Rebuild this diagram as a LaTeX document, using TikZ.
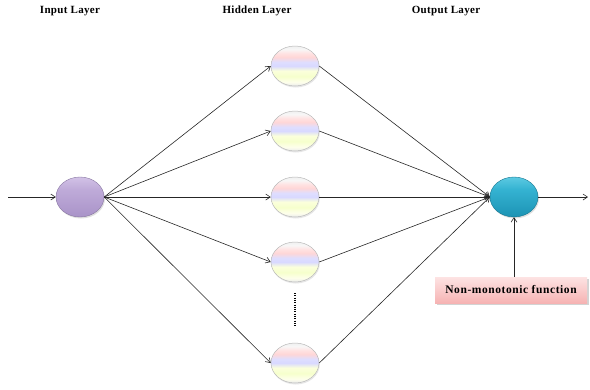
\documentclass[tikz,border=0pt]{standalone}
\usepackage{fontspec}
\setmainfont{Liberation Serif}
\usetikzlibrary{arrows.meta,shapes.geometric,shadows}

\definecolor{inTop}{HTML}{D2C2E6}
\definecolor{inMid}{HTML}{BFABD9}
\definecolor{inBot}{HTML}{A993C8}
\definecolor{outTop}{HTML}{5CCAE2}
\definecolor{outMid}{HTML}{35B3D2}
\definecolor{outBot}{HTML}{1C93B4}
\definecolor{boxTop}{HTML}{FDE3E3}
\definecolor{boxBot}{HTML}{F6B3B3}

% pastel glass bands for the hidden neurons (bottom -> top)
\pgfdeclareverticalshading{hiddenglass}{100bp}{%
  color(0bp)=(gray!16!white);
  color(25bp)=(gray!16!white);
  color(30bp)=(green!6!yellow!8!white);
  color(37bp)=(green!18!yellow!20!white);
  color(44bp)=(green!12!yellow!14!white);
  color(50bp)=(blue!15!white);
  color(55bp)=(blue!13!white);
  color(61bp)=(red!16!white);
  color(66bp)=(red!11!white);
  color(71bp)=(gray!6!white);
  color(75bp)=(gray!12!white);
  color(100bp)=(gray!12!white)}

\pgfdeclareverticalshading{inputball}{100bp}{%
  color(0bp)=(inBot);
  color(25bp)=(inBot);
  color(60bp)=(inMid);
  color(75bp)=(inTop);
  color(100bp)=(inTop)}

\pgfdeclareverticalshading{outputball}{100bp}{%
  color(0bp)=(outBot);
  color(25bp)=(outBot);
  color(60bp)=(outMid);
  color(75bp)=(outTop);
  color(100bp)=(outTop)}

\pgfdeclareverticalshading{pinkbox}{100bp}{%
  color(0bp)=(boxBot);
  color(25bp)=(boxBot);
  color(75bp)=(boxTop);
  color(100bp)=(boxTop)}

\tikzset{
  neuron/.style={ellipse, minimum width=48pt, minimum height=40pt, inner sep=0pt},
  inneuron/.style={neuron, shading=inputball, draw=inBot!80!black, line width=0.4pt,
    drop shadow={opacity=0.25, shadow xshift=1pt, shadow yshift=-1.5pt}},
  hidneuron/.style={neuron, shading=hiddenglass, draw=gray!55, line width=0.5pt,
    drop shadow={opacity=0.2, shadow xshift=0.8pt, shadow yshift=-1.5pt}},
  outneuron/.style={neuron, shading=outputball, draw=outBot!80!black, line width=0.4pt,
    drop shadow={opacity=0.25, shadow xshift=1pt, shadow yshift=-1.5pt}},
  layertitle/.style={font=\fontsize{11}{13}\selectfont\bfseries\addfontfeature{LetterSpace=3}},
  funcbox/.style={shading=pinkbox, minimum width=152pt, minimum height=26pt, inner sep=0pt,
    font=\fontsize{11.5}{13}\selectfont\bfseries\addfontfeature{LetterSpace=5},
    drop shadow={opacity=0.35, shadow xshift=1.5pt, shadow yshift=-2pt}},
  link/.style={draw=black!85, line width=0.6pt, -{Straight Barb[length=4.5pt,width=6pt]}}
}

\begin{document}
\begin{tikzpicture}[x=1pt, y=-1pt]
\useasboundingbox (0,0) rectangle (590,389);

% layer titles
\node[layertitle] (tin)  at (70,11)  {Input Layer};
\node[layertitle] (thid) at (257,11) {Hidden Layer};
\node[layertitle] (tout) at (446,11) {Output Layer};

% neurons
\node[inneuron]  (in) at (80,197) {};
\node[hidneuron] (h1) at (295,66)  {};
\node[hidneuron] (h2) at (295,131) {};
\node[hidneuron] (h3) at (295,197) {};
\node[hidneuron] (h4) at (295,262) {};
\node[hidneuron] (h5) at (295,363) {};
\node[outneuron] (out) at (514,197) {};

% activation box
\node[funcbox] (fn) at (511,290) {Non-monotonic function};

% free ends of the input and output lines
\coordinate (src) at (8,197);
\coordinate (dst) at (588,197);

% dotted ellipsis between the hidden neurons
\coordinate (d1) at (295,293);
\coordinate (d2) at (295,327);
\draw[line width=2pt, dash pattern=on 1pt off 1.3pt] (d1) -- (d2);

% connections
\draw[link] (src) -- (in.west);
\foreach \h in {h1,h2,h3,h4,h5} {
  \draw[link] (in.east) -- (\h.west);
  \draw[link] (\h.east) -- (out.west);
}
\draw[link] (out.east) -- (dst);
\draw[link] (fn.north -| out.south) -- (out.south);
\end{tikzpicture}
\end{document}
